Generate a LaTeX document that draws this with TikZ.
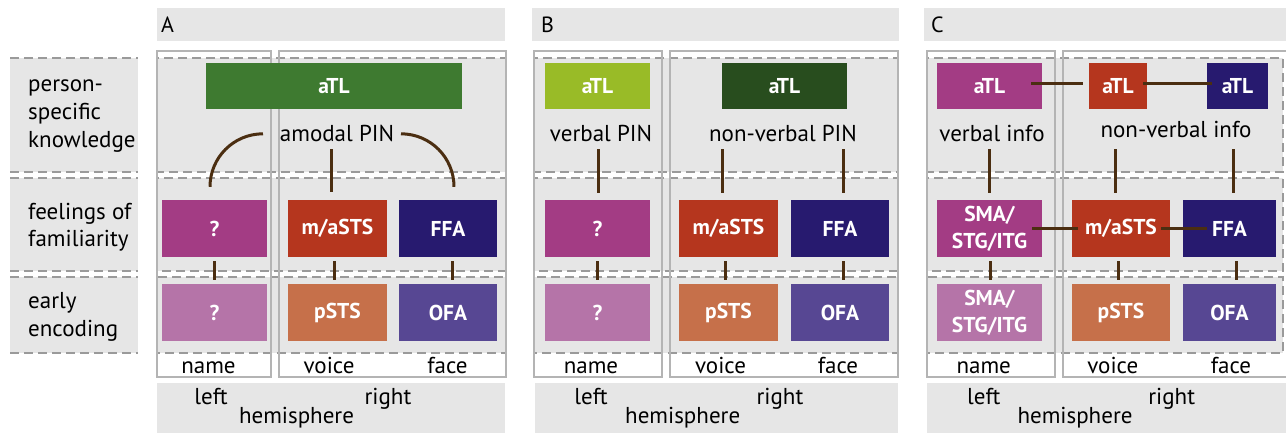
\documentclass[tikz,border=0pt]{standalone}
\usepackage{fontspec}
\setmainfont{PT Sans}
\usetikzlibrary{calc}
\definecolor{bandgrey}{HTML}{E6E6E6}
\definecolor{dashgrey}{HTML}{9A9A9A}
\definecolor{colgrey}{HTML}{B4B4B4}
\definecolor{linkbrown}{HTML}{4B2E11}
\definecolor{cGreen}{HTML}{3E7A30}
\definecolor{cYG}{HTML}{99BB27}
\definecolor{cDG}{HTML}{284D1E}
\definecolor{cMag}{HTML}{A33C84}
\definecolor{cMagL}{HTML}{B574A8}
\definecolor{cRed}{HTML}{B5361E}
\definecolor{cOrange}{HTML}{C6704A}
\definecolor{cNavy}{HTML}{271A6F}
\definecolor{cPurple}{HTML}{574793}
\tikzset{
  region/.style={rectangle, inner sep=0pt, text=white, align=center,
    font=\bfseries\fontsize{21.5}{27}\selectfont},
  r1/.style={region, minimum height=46pt},
  r23/.style={region, minimum height=57pt},
  lab/.style={inner sep=0pt, anchor=base, font=\fontsize{23}{28}\selectfont},
  rowlab/.style={inner sep=0pt, anchor=base west, font=\fontsize{23}{28}\selectfont},
  head/.style={inner sep=0pt, anchor=base west, font=\fontsize{22}{24}\selectfont},
  dashline/.style={draw=dashgrey, line width=1.1pt, dash pattern=on 9pt off 5pt},
  colline/.style={draw=colgrey, line width=1.4pt},
  link/.style={draw=linkbrown, line width=3pt},
}
\begin{document}
\begin{tikzpicture}[x=1pt,y=-1pt]
\clip (0,0) rectangle (1286,433);
\fill[white] (0,0) rectangle (1286,433);
% header bars
\fill[bandgrey] (157,8) rectangle (505,41);
\fill[bandgrey] (532,8) rectangle (899,41);
\fill[bandgrey] (924,8) rectangle (1286,41);
% hemisphere bars
\fill[bandgrey] (157,383) rectangle (505,433);
\fill[bandgrey] (535,383) rectangle (898,433);
\fill[bandgrey] (927,383) rectangle (1286,433);
% row label bands
\foreach \ya/\yb in {58/172,178/271,277/353}{
  \fill[bandgrey] (10,\ya) rectangle (138,\yb);
  \draw[dashline] (10,\ya) -- (138,\ya);
  \draw[dashline] (10,\yb) -- (138,\yb);
}
% panel bands
\foreach \xa/\xb in {157/506,534/898,927/1283}{
  \foreach \ya/\yb in {58/172,178/271,277/353}{
    \filldraw[fill=bandgrey, dashline] (\xa,\ya) rectangle (\xb,\yb);
  }
}
% column outlines
\draw[colline] (157,51) rectangle (271,377);
\draw[colline] (279,51) rectangle (506,377);
\draw[colline] (534,51) rectangle (662,377);
\draw[colline] (670,51) rectangle (898,377);
\draw[colline] (927,51) rectangle (1055,377);
\draw[colline] (1063,51) rectangle (1300,377);

% headers
\node[head] (hA) at (161,33) {A};
\node[head] (hB) at (541,33) {B};
\node[head] (hC) at (931,33) {C};

% row labels
\node[rowlab] (l1) at (28,92) {\begin{tabular}[t]{@{}l@{}}person-\\specific\\knowledge\end{tabular}};
\node[rowlab] (l2) at (28,219) {\begin{tabular}[t]{@{}l@{}}feelings of\\familiarity\end{tabular}};
\node[rowlab] (l3) at (28,308) {\begin{tabular}[t]{@{}l@{}}early\\encoding\end{tabular}};

% ---------- Panel A ----------
\node[r1, fill=cGreen, minimum width=256pt] (aA) at (334,86) {aTL};
\node[r23, fill=cMag, minimum width=105pt] (qA2) at (214.5,228.5) {?};
\node[r23, fill=cRed, minimum width=99pt] (mA2) at (337.5,228.5) {m/aSTS};
\node[r23, fill=cNavy, minimum width=98pt] (fA2) at (448,228.5) {FFA};
\node[r23, fill=cMagL, minimum width=105pt] (qA3) at (214.5,312.5) {?};
\node[r23, fill=cOrange, minimum width=99pt] (mA3) at (337.5,312.5) {pSTS};
\node[r23, fill=cPurple, minimum width=98pt] (fA3) at (448,312.5) {OFA};
\node[lab] (pinA) at (337,142) {amodal PIN};
\draw[link] ($(qA2.north)+(-4.5,-13)$) arc[start angle=180, end angle=90, radius=53pt];
\draw[link] ($(fA2.north)+(6,-13)$) arc[start angle=0, end angle=90, radius=53pt];
\draw[link] ($(mA2.north)+(-6.5,-8)$) -- ($(mA2.north)+(-6.5,-51)$);
\draw[link] ($(qA2.south)+(0,4)$) -- ($(qA3.north)+(0,-4)$);
\draw[link] ($(mA2.south)+(-3.5,4)$) -- ($(mA3.north)+(-3.5,-4)$);
\draw[link] ($(fA2.south)+(4,4)$) -- ($(fA3.north)+(4,-4)$);
\node[lab] (nA) at (208.5,373) {name};
\node[lab] (vA) at (329,373) {voice};
\node[lab] (faA) at (447.5,373) {face};
\node[lab] (leA) at (211,404) {left};
\node[lab] (riA) at (388,404) {right};
\node[lab] (heA) at (296.5,423) {hemisphere};

% ---------- Panel B ----------
\node[r1, fill=cYG, minimum width=105pt] (aB1) at (597.5,86) {aTL};
\node[r1, fill=cDG, minimum width=125pt] (aB2) at (784.5,86) {aTL};
\node[r23, fill=cMag, minimum width=105pt] (qB2) at (597.5,228.5) {?};
\node[r23, fill=cRed, minimum width=99pt] (mB2) at (728.5,228.5) {m/aSTS};
\node[r23, fill=cNavy, minimum width=98pt] (fB2) at (840,228.5) {FFA};
\node[r23, fill=cMagL, minimum width=105pt] (qB3) at (597.5,312.5) {?};
\node[r23, fill=cOrange, minimum width=99pt] (mB3) at (728.5,312.5) {pSTS};
\node[r23, fill=cPurple, minimum width=98pt] (fB3) at (840,312.5) {OFA};
\node[lab] (pinB1) at (601,142) {verbal PIN};
\node[lab] (pinB2) at (783,142) {non-verbal PIN};
\draw[link] ($(qB2.north)+(0.5,-7)$) -- ($(qB2.north)+(0.5,-51)$);
\draw[link] ($(mB2.north)+(-6.5,-7)$) -- ($(mB2.north)+(-6.5,-51)$);
\draw[link] ($(fB2.north)+(3,-7)$) -- ($(fB2.north)+(3,-51)$);
\draw[link] ($(qB2.south)+(-0.5,4)$) -- ($(qB3.north)+(-0.5,-4)$);
\draw[link] ($(mB2.south)+(-3.5,4)$) -- ($(mB3.north)+(-3.5,-4)$);
\draw[link] ($(fB2.south)+(3,4)$) -- ($(fB3.north)+(3,-4)$);
\node[lab] (nB) at (591,373) {name};
\node[lab] (vB) at (720.5,373) {voice};
\node[lab] (faB) at (838,373) {face};
\node[lab] (leB) at (591,404) {left};
\node[lab] (riB) at (780,404) {right};
\node[lab] (heB) at (682.7,423) {hemisphere};

% ---------- Panel C ----------
\node[r1, fill=cMag, minimum width=105pt] (aC1) at (989.5,86) {aTL};
\node[r1, fill=cRed, minimum width=58pt] (aC2) at (1118,86) {aTL};
\node[r1, fill=cNavy, minimum width=61pt] (aC3) at (1237.5,86) {aTL};
\node[r23, fill=cMag, minimum width=105pt] (sC2) at (989.5,228.5) {SMA/\\STG/ITG};
\node[r23, fill=cRed, minimum width=98pt] (mC2) at (1121,228.5) {m/aSTS};
\node[r23, fill=cNavy, minimum width=93pt] (fC2) at (1229.5,228.5) {FFA};
\node[r23, fill=cMagL, minimum width=105pt] (sC3) at (989.5,312.5) {SMA/\\STG/ITG};
\node[r23, fill=cOrange, minimum width=98pt] (mC3) at (1121,312.5) {pSTS};
\node[r23, fill=cPurple, minimum width=93pt] (fC3) at (1229.5,312.5) {OFA};
\node[lab] (infC1) at (992,142) {verbal info};
\node[lab] (infC2) at (1176,138) {non-verbal info};
\draw[link] ($(aC1.east)+(-11,-2)$) -- ($(aC2.west)+(-6,-2)$);
\draw[link] ($(aC2.east)+(-4,-2)$) -- ($(aC3.west)+(5,-2)$);
\draw[link] ($(sC2.east)+(-10,0)$) -- ($(mC2.west)+(6,0)$);
\draw[link] ($(mC2.east)+(-9,0)$) -- ($(fC2.west)+(24,0)$);
\draw[link] ($(sC2.north)+(-0.5,-7)$) -- ($(sC2.north)+(-0.5,-51)$);
\draw[link] ($(mC2.north)+(-6,-7)$) -- ($(mC2.north)+(-6,-51)$);
\draw[link] ($(fC2.north)+(3.5,-7)$) -- ($(fC2.north)+(3.5,-51)$);
\draw[link] ($(sC2.south)+(0.5,4)$) -- ($(sC3.north)+(0.5,-4)$);
\draw[link] ($(mC2.south)+(-3,4)$) -- ($(mC3.north)+(-3,-4)$);
\draw[link] ($(fC2.south)+(6.5,4)$) -- ($(fC3.north)+(6.5,-4)$);
\node[lab] (nC) at (983.7,373) {name};
\node[lab] (vC) at (1112.8,373) {voice};
\node[lab] (faC) at (1231,373) {face};
\node[lab] (leC) at (983.8,404) {left};
\node[lab] (riC) at (1171.7,404) {right};
\node[lab] (heC) at (1075,423) {hemisphere};
\end{tikzpicture}
\end{document}
